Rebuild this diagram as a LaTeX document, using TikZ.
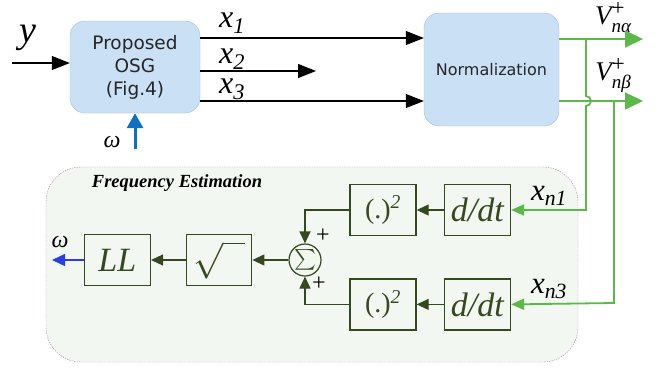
\documentclass[tikz,border=0pt]{standalone}
\usepackage{amsmath}
\usepackage{fontspec}
\setmainfont{Liberation Serif}
\newfontfamily\boxfont{DejaVu Sans}
\usetikzlibrary{arrows.meta,positioning}
\definecolor{osgfill}{HTML}{C9E0F5}
\definecolor{osgedge}{HTML}{A5C0D8}
\definecolor{outgreen}{HTML}{5CB84A}
\definecolor{fegreen}{HTML}{34491F}
\definecolor{febg}{HTML}{F3F7F1}
\definecolor{omegablue}{HTML}{1070C0}
\definecolor{llblue}{HTML}{2840E0}
% output voltage label: V with stacked + and subscript
\newcommand\vout[1]{V\rlap{\raisebox{9pt}{\fontsize{23}{23}\selectfont\upshape +}}\raisebox{-8pt}{\fontsize{19}{19}\selectfont #1}}
\tikzset{
  osg/.style={rectangle, rounded corners=15pt, draw=osgedge, fill=osgfill,
              align=center, text=black!85, font=\boxfont\fontsize{18.5}{23}\selectfont},
  feblock/.style={rectangle, draw=fegreen, line width=1.4pt, fill=febg,
                  minimum width=66pt, minimum height=51pt, inner sep=0pt, text=fegreen,
                  font=\fontsize{34}{34}\selectfont\itshape},
  panel/.style={rectangle, rounded corners=35pt, draw=black!40, dashed,
                dash pattern=on 1.5pt off 1pt, fill=febg},
  lbl/.style={inner sep=0pt, font=\fontsize{32}{32}\selectfont\itshape},
  sig/.style={-{Triangle[length=18pt, width=14pt]}, draw=black, line width=1.2pt},
  outsig/.style={draw=outgreen, line width=1.8pt},
  fesig/.style={-{Triangle[length=12pt, width=11pt]}, draw=fegreen, line width=1.2pt},
}
\begin{document}
\begin{tikzpicture}[x=1pt, y=-1pt]
\useasboundingbox (0,0) rectangle (663,370);

% frequency estimation panel
\node[panel, minimum width=532pt, minimum height=195pt] (fe) at (312,264.5) {};
\node[inner sep=0pt, font=\fontsize{18.5}{20}\selectfont\bfseries\itshape] (fetitle) at (177,183) {Frequency Estimation};

% main path
\node[osg, minimum width=130pt, minimum height=92pt] (osgbox) at (135,67) {Proposed\\OSG\\(Fig.4)};
\node[osg, minimum width=135pt, minimum height=113pt, font=\boxfont\fontsize{16}{20}\selectfont] (norm) at (491.5,69.5) {Normalization};

\coordinate (yin) at (12,63);
\coordinate (x2end) at (316,71);
\coordinate (wbot) at (135,149);
\coordinate (va) at (643,39);
\coordinate (vb) at (643,101);

\node[lbl, font=\fontsize{38}{38}\selectfont\itshape] (ylbl) at (28,38) {y};
\node[lbl] (x1lbl) at (232,23) {x\textsubscript{1}};
\node[lbl] (x2lbl) at (232,59) {x\textsubscript{2}};
\node[lbl] (x3lbl) at (232,89) {x\textsubscript{3}};
\node[lbl, font=\fontsize{24}{24}\selectfont\itshape] (wlbl) at (112,142) {ω};
\node[lbl, font=\fontsize{27}{27}\selectfont\itshape] (valbl) at (613,18) {\vout{nα}};
\node[lbl, font=\fontsize{27}{27}\selectfont\itshape] (vblbl) at (613,76) {\vout{nβ}};

\draw[sig] (yin) -- (yin -| osgbox.west);
\draw[sig] ([yshift=29pt]osgbox.east) -- ([yshift=29pt]osgbox.east -| norm.west);
\draw[sig] (osgbox.east |- x2end) -- (x2end);
\draw[sig] ([yshift=-34pt]osgbox.east) -- ([yshift=-34pt]osgbox.east -| norm.west);
\draw[-{Triangle[length=15pt, width=16pt]}, draw=omegablue, line width=3pt] (wbot) -- (osgbox.south);

\draw[outsig, -{Triangle[length=18pt, width=17pt]}] (norm.east |- va) -- (va);
\draw[outsig, -{Triangle[length=18pt, width=17pt]}] (norm.east |- vb) -- (vb);

% frequency estimation blocks
\node[feblock, font=\fontsize{28}{28}\selectfont] (sq1) at (383,210) {(.)\textsuperscript{\itshape 2}};
\node[feblock] (dt1) [right=27pt of sq1] {d/dt};
\node[feblock, font=\fontsize{28}{28}\selectfont] (sq2) [below=42pt of sq1] {(.)\textsuperscript{\itshape 2}};
\node[feblock] (dt2) [right=27pt of sq2] {d/dt};
\node[circle, draw=fegreen, line width=1.2pt, fill=febg, minimum size=32pt, inner sep=0pt,
      text=fegreen, font=\fontsize{21}{21}\selectfont] (sum) at (305,260) {$\sum$};
\node[feblock, minimum width=65pt, font=\fontsize{24}{24}\selectfont] (root) [left=36pt of sum] {\scalebox{1.45}{$\sqrt{\hspace{15pt}}$}};
\node[feblock] (ll) [left=35pt of root] {LL};
\coordinate (wout) at (52,260);

\node[lbl, font=\fontsize{24}{24}\selectfont] (plus1) at (323,236) {+};
\node[lbl, font=\fontsize{24}{24}\selectfont] (plus2) at (319,284) {+};
\node[lbl, font=\fontsize{24}{24}\selectfont\itshape] (wout lbl) at (60,242) {ω};
\node[lbl, font=\fontsize{31}{31}\selectfont\itshape] (xn1lbl) at (549,196) {x\textsubscript{n1}};
\node[lbl, font=\fontsize{31}{31}\selectfont\itshape] (xn3lbl) at (549,289) {x\textsubscript{n3}};

% feedback from the outputs
\draw[outsig, -{Triangle[length=13pt, width=11pt]}]
  (586,39) -- (586,96) arc[start angle=90, end angle=-90, radius=5pt] -- (586,210) -- (dt1.east);
\draw[outsig, -{Triangle[length=13pt, width=11pt]}] (614,101) -- (614,303) -- (dt2.east);

\draw[fesig] (dt1) -- (sq1);
\draw[fesig] (dt2) -- (sq2);
\draw[fesig] (sq1.west) -| (sum.north);
\draw[fesig] (sq2.west) -| (sum.south);
\draw[fesig] (sum) -- (root);
\draw[fesig] (root) -- (ll);
\draw[-{Triangle[length=13pt, width=12pt]}, draw=llblue, line width=1.2pt] (ll) -- (wout);
\end{tikzpicture}
\end{document}
